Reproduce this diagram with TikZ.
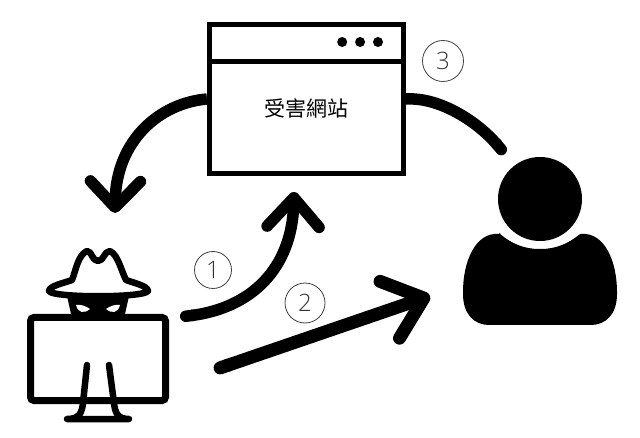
\documentclass[tikz,border=0pt]{standalone}
\usepackage{fontspec}
\newfontfamily\cjk{Noto Sans CJK TC}
\setmainfont{Open Sans Light}
\usetikzlibrary{shapes,arrows.meta,positioning}
\tikzstyle{window} = [draw,line width=5pt,rectangle,fill=white,inner sep=0,minimum width=194pt,minimum height=149pt]
\tikzstyle{dot} = [fill,circle,inner sep=0,minimum size=10pt]
\tikzstyle{badge} = [draw=black!75,line width=.8pt,circle,inner sep=0,text=black!80,font=\fontsize{24}{24}\selectfont]
\tikzstyle{link} = [line width=11.5pt]
\tikzstyle{icon} = [line width=6.5pt,line join=round,line cap=round]

\begin{document}
\begin{tikzpicture}[x=1pt,y=-1pt]
  \useasboundingbox[fill=white] (0,0) rectangle (640,438);
  % site
  \node[window] (site) at (306.5,99) {};
  \draw[line width=5pt] (site.west |- 0,62) -- (site.east |- 0,62);
  \node[dot] (d3) at (378,42) {};
  \node[dot,left=7.5pt of d3] (d2) {};
  \node[dot,left=7.5pt of d2] (d1) {};
  \node[font=\cjk\fontsize{21}{21}\selectfont] (name) at (306,108) {受害網站};
  % attacker
  \node[draw,line width=7pt,rectangle,rounded corners=.12cm,inner sep=0,minimum width=135pt,minimum height=83pt] (screen) at (98,359) {};
  \draw[icon,fill=white] (72,280) .. controls (76,270) and (78,255) .. (87,251)
     .. controls (92,251) and (92,261) .. (98,261) .. controls (104,261) and (104,251) .. (110,251)
     .. controls (118,255) and (121,270) .. (126,280) .. controls (134,283) and (148,286) .. (148,291)
     .. controls (144,298) and (52,298) .. (49,291) .. controls (49,286) and (64,283) .. (72,280) -- cycle;
  \fill (67,296) -- (129,296) -- (125,314) -- (71,314) -- cycle;
  \fill[white] (76,305) .. controls (80,304) and (86,306) .. (90,309) .. controls (84,314) and (78,313) .. (76,305) -- cycle;
  \fill[white] (120,305) .. controls (116,304) and (110,306) .. (106,309) .. controls (112,314) and (118,313) .. (120,305) -- cycle;
  \draw[icon] (87,365) -- (83,403) .. controls (82,412) and (80,419) .. (67,419) -- (129,419) .. controls (117,419) and (115,412) .. (114,403) -- (109,365);
  % victim
  \node[fill,circle,inner sep=0,minimum size=84pt] (head) at (540,199) {};
  \fill[rounded corners=1pt] (500,234) .. controls (512,244) and (525,249) .. (540,249) .. controls (555,249) and (568,244) .. (580,234)
     .. controls (605,232) and (617,262) .. (617,293) .. controls (617,315) and (605,325) .. (590,325) -- (490,325)
     .. controls (475,325) and (463,315) .. (463,293) .. controls (463,262) and (475,232) .. (500,234) -- cycle;
  % links
  \coordinate (p1) at (180,317);
  \coordinate (p2) at (214,370);
  \coordinate (p3) at (505,154);
  \coordinate (q0) at (115,213);
  \coordinate (q1) at (294,192);
  \coordinate (q2) at (430,296);
  \draw[link,-{Straight Barb[round,length=26pt,width=50pt]}] (site.west) .. controls (160,103) and (116,140) .. (q0);
  \draw[link,{Round Cap[]}-{Straight Barb[round,length=29pt,width=52pt]}] (p1) .. controls (250,308) and (292,270) .. (q1);
  \draw[link,line width=13pt,{Round Cap[]}-{Straight Barb[round,length=36pt,width=60pt]}] (p2) -- (q2);
  \draw[link,-{Round Cap[]}] (site.east) .. controls (440,97) and (478,122) .. (p3);
  % numbers
  \node[badge,minimum size=37pt] (n1) at (213,270) {1};
  \node[badge,minimum size=40pt] (n2) at (305,303) {2};
  \node[badge,minimum size=41pt] (n3) at (443,61) {3};
\end{tikzpicture}
\end{document}
